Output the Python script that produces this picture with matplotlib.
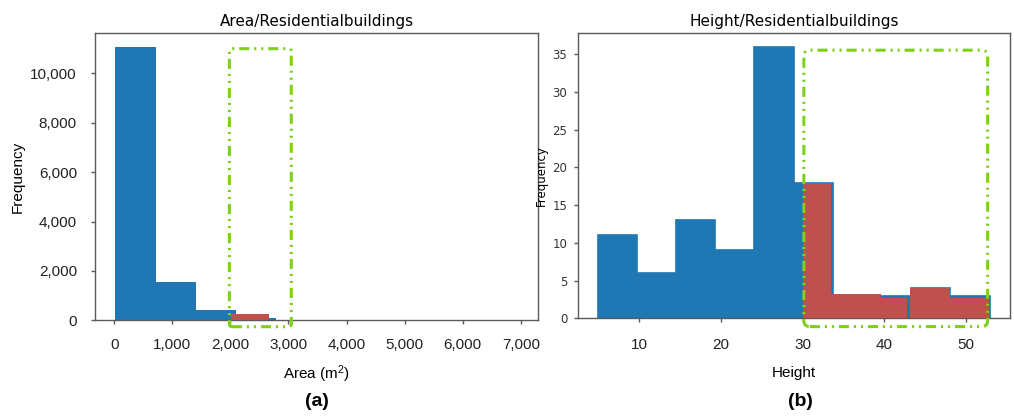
import numpy as np
from matplotlib import pyplot as plt
from matplotlib.patches import FancyBboxPatch
from matplotlib.ticker import StrMethodFormatter

plt.rcParams['mathtext.fontset'] = 'custom'
plt.rcParams['mathtext.rm'] = 'Liberation Sans'
plt.rcParams['mathtext.it'] = 'Liberation Sans'

# area histogram (all residential buildings), 10 equal bins
area_edges = [19, 712, 1405, 2098, 2791, 3484, 4177, 4870, 5563, 6256, 6949]
area_counts = [11070, 1570, 400, 80, 15, 6, 3, 2, 1, 1]
# area of the highlighted group
area_sel_edges = [2010, 2665]
area_sel_counts = [270]
area_box = [1983, 3048, -260, 11000]   # x0, x1, y0, y1

# height histogram (all residential buildings)
height_edges = [4.9, 9.7, 14.5, 19.3, 24.1, 28.9, 33.7, 38.5, 43.3, 48.1, 52.9]
height_counts = [11, 6, 13, 9, 36, 18, 3, 3, 4, 3]
# heights of the highlighted group
height_sel_edges = [30.05, 33.45, 39.6, 42.75, 43.1, 48.05, 52.85]
height_sel_counts = [18, 3.2, 2.65, 0, 4.05, 2.65]
height_box = [30.15, 52.65, -1.1, 35.55]

blue = '#1f77b4'
red = '#c0504d'
green = '#7dd11b'
spine_col = '#5a5a5a'
arial = 'Liberation Sans'
dejavu = 'DejaVu Sans'

fig = plt.figure(figsize=(10.14, 4.16), dpi=100)
ax1 = fig.add_axes([95/1014, (416-320.3)/416, 443/1014, 287/416])
ax2 = fig.add_axes([577.7/1014, (416-318.3)/416, 432.3/1014, 285.1/416])


def style_axes(ax):
    for s in ax.spines.values():
        s.set_color(spine_col)
        s.set_linewidth(1.0)
    ax.tick_params(color=spine_col, length=3, width=1)


def draw_box(ax, box, radius_px):
    # dash-dot-dot frame with corners of roughly radius_px pixels
    x0, x1, y0, y1 = box
    fig.canvas.draw()
    bb = ax.get_window_extent()
    xl, yl = ax.get_xlim(), ax.get_ylim()
    px_x = bb.width / (xl[1] - xl[0])
    px_y = bb.height / (yl[1] - yl[0])
    p = FancyBboxPatch((x0, y0), x1-x0, y1-y0,
                       boxstyle='round,pad=0,rounding_size=%g' % (radius_px/px_x),
                       mutation_aspect=px_x/px_y,
                       fill=False, edgecolor=green, linewidth=2.2,
                       linestyle=(0, (3.3, 1.6, 0.7, 1.6, 0.7, 1.6)),
                       clip_on=False, zorder=5)
    ax.add_patch(p)


# (a) area
ax1.stairs(area_counts, area_edges, fill=True, color=blue, zorder=2)
ax1.stairs(area_sel_counts, area_sel_edges, fill=True, color=red, zorder=3)
ax1.set_xlim(-330, 7294)
ax1.set_ylim(0, max(area_counts)*1.05)
ax1.set_xticks(np.arange(0, 7001, 1000))
ax1.set_yticks(np.arange(0, 10001, 2000))
ax1.xaxis.set_major_formatter(StrMethodFormatter('{x:,.0f}'))
ax1.yaxis.set_major_formatter(StrMethodFormatter('{x:,.0f}'))
style_axes(ax1)
ax1.tick_params(axis='y', pad=10)
ax1.tick_params(axis='x', pad=10)
for lab in ax1.get_xticklabels() + ax1.get_yticklabels():
    lab.set_fontfamily(arial)
    lab.set_fontsize(11)
    lab.set_color('#222222')
ax1.set_title('Area/Residentialbuildings', fontsize=11, family=dejavu, pad=5)
ax1.set_ylabel('Frequency', fontsize=11, family=arial, labelpad=4)
ax1.set_xlabel('Area (m$^2$)', fontsize=11, family=arial, labelpad=8)
draw_box(ax1, area_box, 2.5)

# (b) height
ax2.stairs(height_counts, height_edges, fill=True, color=blue, zorder=2)
ax2.stairs(height_counts, height_edges, color=blue, linewidth=1.2, zorder=2)
ax2.stairs(height_sel_counts, height_sel_edges, fill=True, color=red, zorder=3)
ax2.set_xlim(2.46, 55.39)
ax2.set_ylim(0, max(height_counts)*1.05)
ax2.set_xticks([10, 20, 30, 40, 50])
ax2.set_yticks(np.arange(0, 36, 5))
style_axes(ax2)
ax2.tick_params(axis='y', pad=4.5, labelsize=8.5, labelcolor='#333333')
ax2.tick_params(axis='x', pad=11)
for lab in ax2.get_xticklabels():
    lab.set_fontfamily(arial)
    lab.set_fontsize(11)
    lab.set_color('#222222')
ax2.set_title('Height/Residentialbuildings', fontsize=11, family=dejavu, pad=5)
ax2.set_ylabel('Frequency', fontsize=8.5, family=dejavu, labelpad=3.5)
ax2.set_xlabel('Height', fontsize=11, family=arial, labelpad=10)
draw_box(ax2, height_box, 6)

fig.text(316.5/1014, 1 - 401/416, '(a)', ha='center', va='center',
         fontsize=14, fontweight='bold', family=arial)
fig.text(800/1014, 1 - 401/416, '(b)', ha='center', va='center',
         fontsize=14, fontweight='bold', family=arial)

fig.savefig('out.png', dpi=100)
